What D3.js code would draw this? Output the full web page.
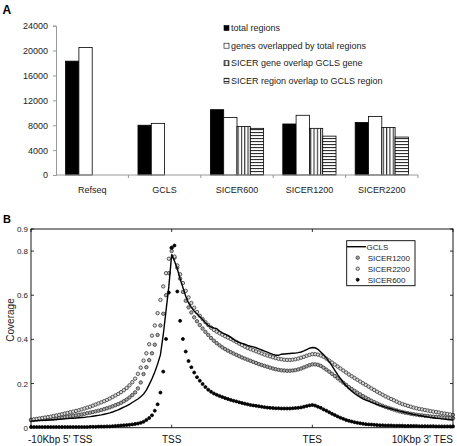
<!DOCTYPE html>
<html><head><meta charset="utf-8">
<script src="https://cdn.jsdelivr.net/npm/d3@7"></script>
<style>body{margin:0;background:#fff}svg{display:block}text{font-family:"Liberation Sans",Arial,sans-serif}</style>
</head><body>
<svg id="c" width="457" height="446"></svg>
<script>
// ---- Panel A data ----
const categories = ["Refseq","GCLS","SICER600","SICER1200","SICER2200"];
const seriesNames = ["total regions","genes overlapped by total regions","SICER gene overlap GCLS gene","SICER region overlap to GCLS region"];
const totalRegions      = [18300, 8000, 10500, 8200, 8450];
const genesOverlapped   = [20500, 8300, 9250, 9600, 9400];
const sicerGeneOverlap  = [null, null, 7800, 7500, 7650];
const sicerRegionOverlap= [null, null, 7500, 6250, 6100];
const yTicksA = [0,4000,8000,12000,16000,20000,24000];

// ---- Panel B data (150 bins: 0-50 upstream, 50-100 gene body, 100-150 downstream) ----
const xTickPos = [0,50,100,150];
const xTickLabels = ["-10Kbp 5' TSS","TSS","TES","10Kbp 3' TES"];
const yTicksB = [0,0.2,0.4,0.6,0.8,0.9];
const GCLS = [
.030,.031,.032,.033,.033,.034,.035,.035,.036,.037,
.038,.039,.040,.041,.042,.043,.044,.045,.046,.047,
.049,.050,.052,.054,.056,.058,.061,.064,.067,.071,
.076,.081,.087,.093,.099,.106,.114,.122,.130,.140,
.152,.170,.195,.222,.252,.288,.330,.420,.530,.640,
.785,.755,.720,.675,.635,.595,.565,.545,.528,.515,
.503,.490,.475,.463,.456,.452,.449,.438,.430,.424,
.418,.410,.400,.392,.386,.382,.378,.373,.369,.366,
.362,.357,.352,.347,.342,.337,.332,.328,.328,.333,
.334,.335,.336,.337,.338,.340,.343,.348,.354,.360,
.363,.362,.355,.343,.330,.315,.298,.280,.260,.240,
.222,.205,.190,.176,.165,.155,.146,.138,.131,.125,
.120,.115,.110,.105,.101,.097,.093,.089,.086,.082,
.079,.075,.072,.069,.066,.063,.060,.058,.055,.053,
.051,.049,.047,.045,.043,.042,.040,.039,.037,.036,
.035];
const SICER1200 = [
.034,.035,.036,.037,.038,.039,.040,.041,.042,.043,
.044,.046,.048,.050,.052,.054,.056,.058,.060,.063,
.066,.068,.071,.074,.077,.080,.084,.088,.092,.097,
.102,.107,.113,.120,.128,.137,.148,.160,.178,.205,
.243,.274,.306,.337,.376,.420,.463,.516,.600,.700,
.800,.770,.725,.675,.615,.575,.545,.522,.500,.482,
.465,.449,.434,.420,.406,.394,.383,.373,.364,.356,
.349,.342,.336,.330,.324,.318,.313,.308,.303,.298,
.293,.288,.284,.280,.276,.272,.268,.265,.262,.260,
.259,.258,.258,.259,.261,.264,.268,.273,.278,.283,
.287,.287,.285,.280,.272,.263,.254,.244,.234,.224,
.214,.204,.194,.184,.175,.167,.159,.151,.143,.136,
.129,.122,.116,.110,.104,.099,.094,.090,.086,.082,
.078,.074,.071,.068,.066,.063,.061,.059,.057,.056,
.054,.053,.051,.050,.049,.048,.047,.046,.045,.044,
.043];
const SICER2200 = [
.036,.038,.040,.042,.044,.046,.048,.050,.053,.055,
.058,.061,.064,.067,.070,.073,.076,.079,.083,.087,
.091,.095,.100,.105,.110,.115,.120,.126,.132,.139,
.146,.153,.161,.170,.180,.192,.206,.222,.244,.272,
.304,.337,.378,.417,.463,.519,.579,.640,.700,.765,
.815,.775,.735,.695,.655,.620,.590,.565,.543,.524,
.507,.492,.478,.465,.453,.443,.435,.428,.421,.414,
.408,.402,.395,.388,.381,.374,.367,.361,.356,.351,
.346,.341,.336,.331,.327,.323,.319,.315,.312,.310,
.308,.307,.307,.308,.310,.313,.317,.321,.326,.330,
.333,.333,.331,.327,.321,.313,.304,.295,.286,.277,
.268,.259,.250,.241,.233,.225,.217,.209,.201,.194,
.186,.178,.171,.163,.156,.149,.142,.136,.130,.124,
.118,.112,.107,.103,.099,.095,.091,.088,.085,.083,
.080,.078,.075,.073,.071,.069,.066,.064,.062,.060,
.058];
const SICER600 = [
.003,.003,.003,.003,.003,.003,.003,.003,.003,.003,
.003,.003,.003,.003,.003,.003,.003,.003,.003,.003,
.003,.004,.004,.004,.005,.005,.005,.006,.006,.007,
.008,.009,.010,.011,.012,.013,.015,.017,.019,.022,
.027,.035,.044,.056,.077,.106,.159,.254,.402,.612,
.815,.825,.617,.484,.402,.345,.302,.274,.250,.229,
.213,.198,.184,.172,.163,.155,.149,.144,.139,.134,
.130,.126,.122,.119,.115,.112,.109,.106,.103,.101,
.099,.097,.095,.093,.091,.090,.089,.088,.088,.087,
.087,.087,.087,.088,.089,.090,.092,.095,.098,.101,
.103,.100,.095,.090,.083,.077,.070,.063,.057,.051,
.045,.040,.035,.031,.028,.025,.022,.020,.018,.016,
.015,.014,.013,.012,.011,.011,.010,.010,.010,.009,
.009,.009,.009,.008,.008,.008,.008,.008,.007,.007,
.007,.007,.007,.007,.006,.006,.006,.006,.006,.006,
.006];

const svg = d3.select("#c");
const defs = svg.append("defs");
const pv = defs.append("pattern").attr("id","vstripe").attr("patternUnits","userSpaceOnUse").attr("width",3.3).attr("height",4);
pv.append("rect").attr("width",3.3).attr("height",4).attr("fill","#fff");
pv.append("line").attr("x1",0.6).attr("x2",0.6).attr("y1",0).attr("y2",4).attr("stroke","#000").attr("stroke-width",0.9);
const ph = defs.append("pattern").attr("id","hstripe").attr("patternUnits","userSpaceOnUse").attr("width",4).attr("height",3);
ph.append("rect").attr("width",4).attr("height",3).attr("fill","#fff");
ph.append("line").attr("x1",0).attr("x2",4).attr("y1",0.6).attr("y2",0.6).attr("stroke","#000").attr("stroke-width",0.9);
const fills = ["#000","#fff","url(#vstripe)","url(#hstripe)"];

// ---------- Panel A ----------
svg.append("text").attr("x",2.5).attr("y",14).attr("font-size",12).attr("font-weight","bold").text("A");
const yA = d3.scaleLinear().domain([0,24000]).range([175,25.7]);
const xA = d3.scaleBand().domain(categories).range([56,418]);
const x1 = d3.scaleBand().domain(d3.range(4)).range([0,xA.bandwidth()]).paddingOuter(0.72);
const valuesA = [totalRegions, genesOverlapped, sicerGeneOverlap, sicerRegionOverlap];

const gy = svg.append("g").attr("transform","translate(56,0)")
  .call(d3.axisLeft(yA).tickValues(yTicksA).tickSize(3).tickPadding(5).tickFormat(d3.format("d")));
gy.selectAll("path,line").attr("stroke","#999");
gy.selectAll("text").attr("font-size",9).attr("fill","#222").attr("font-family","Liberation Sans, Arial, sans-serif");

categories.forEach((c,ci)=>{
  valuesA.forEach((arr,si)=>{
    const v = arr[ci];
    if (v==null) return;
    svg.append("rect").attr("x",xA(c)+x1(si)).attr("y",yA(v))
      .attr("width",x1.bandwidth()).attr("height",yA(0)-yA(v))
      .attr("fill",fills[si]).attr("stroke","#000").attr("stroke-width",0.8);
  });
});
svg.append("line").attr("x1",56).attr("x2",418).attr("y1",175).attr("y2",175).attr("stroke","#999");
categories.forEach((c,ci)=>{
  if (ci>0) svg.append("line").attr("x1",xA(c)).attr("x2",xA(c)).attr("y1",175).attr("y2",178).attr("stroke","#999");
  svg.append("text").attr("x",xA(c)+xA.bandwidth()/2).attr("y",193).attr("text-anchor","middle")
    .attr("font-size",9).attr("fill","#222").text(c);
});
svg.append("line").attr("x1",418).attr("x2",418).attr("y1",175).attr("y2",178).attr("stroke","#999");
const legY = [28,45.7,63.2,80.7];
seriesNames.forEach((n,i)=>{
  svg.append("rect").attr("x",224).attr("y",legY[i]-2.5).attr("width",5).attr("height",5)
    .attr("fill",fills[i]).attr("stroke","#000").attr("stroke-width",0.6);
  svg.append("text").attr("x",231).attr("y",legY[i]+3.2).attr("font-size",9).attr("fill","#222").text(n);
});

// ---------- Panel B ----------
svg.append("text").attr("x",3).attr("y",222.5).attr("font-size",11).attr("font-weight","bold").text("B");
const L=31, R=453, T=229, B=427.7;
const xB = d3.scaleLinear().domain([0,150]).range([L,R]);
const yB = d3.scaleLinear().domain([0,0.9]).range([B,T]);

const dotted = [
  {name:"SICER1200", data:SICER1200, fill:"#aaa", stroke:"#333", r:1.7},
  {name:"SICER2200", data:SICER2200, fill:"#ddd", stroke:"#333", r:1.7},
  {name:"SICER600", data:SICER600, fill:"#000", stroke:"#000", r:1.5}
];
dotted.forEach(s=>{
  svg.append("g").selectAll("circle").data(s.data).join("circle")
    .attr("cx",(d,i)=>xB(i)).attr("cy",d=>yB(d)).attr("r",s.r)
    .attr("fill",s.fill).attr("stroke",s.stroke).attr("stroke-width",0.8);
});
svg.append("path").datum(GCLS)
  .attr("d",d3.line().x((d,i)=>xB(i)).y(d=>yB(d)))
  .attr("fill","none").attr("stroke","#000").attr("stroke-width",1.4);

svg.append("rect").attr("x",L).attr("y",T).attr("width",R-L).attr("height",B-T)
  .attr("fill","none").attr("stroke","#000").attr("stroke-width",0.9);
yTicksB.forEach(t=>{
  svg.append("line").attr("x1",L).attr("x2",L+3).attr("y1",yB(t)).attr("y2",yB(t)).attr("stroke","#000").attr("stroke-width",0.8);
  svg.append("line").attr("x1",R).attr("x2",R-3).attr("y1",yB(t)).attr("y2",yB(t)).attr("stroke","#000").attr("stroke-width",0.8);
  svg.append("text").attr("x",28).attr("y",yB(t)+3).attr("text-anchor","end").attr("font-size",8).attr("fill","#222")
    .text(t===0?"0":d3.format(".1f")(t));
});
xTickPos.forEach((p,i)=>{
  svg.append("line").attr("x1",xB(p)).attr("x2",xB(p)).attr("y1",B).attr("y2",B-3).attr("stroke","#000").attr("stroke-width",0.8);
  svg.append("line").attr("x1",xB(p)).attr("x2",xB(p)).attr("y1",T).attr("y2",T+3).attr("stroke","#000").attr("stroke-width",0.8);
  const anchor = i===0?"start":(i===xTickPos.length-1?"end":"middle");
  const xx = i===0?28:(i===xTickPos.length-1?R:xB(p));
  svg.append("text").attr("x",xx).attr("y",442.5).attr("text-anchor",anchor).attr("font-size",10).attr("fill","#111").text(xTickLabels[i]);
});
svg.append("text").attr("transform","translate(13.5,320) rotate(-90)").attr("text-anchor","middle")
  .attr("font-size",10).attr("fill","#222").text("Coverage");

// legend B
svg.append("rect").attr("x",346.7).attr("y",240.7).attr("width",68.3).attr("height",45)
  .attr("fill","#fff").attr("stroke","#000").attr("stroke-width",0.9);
const legB = [{name:"GCLS",type:"line"}].concat(dotted.map(d=>({name:d.name,type:"dot",s:d})));
legB.forEach((e,i)=>{
  const yy = 246.7 + i*11;
  if (e.type==="line") {
    svg.append("line").attr("x1",347).attr("x2",366).attr("y1",yy).attr("y2",yy).attr("stroke","#000").attr("stroke-width",1.4);
  } else {
    svg.append("circle").attr("cx",357.7).attr("cy",yy).attr("r",e.s.r).attr("fill",e.s.fill).attr("stroke",e.s.stroke).attr("stroke-width",0.8);
  }
  svg.append("text").attr("x",e.type==="line"?366.5:367.7).attr("y",yy+3).attr("font-size",8).attr("fill","#222").text(e.name);
});
</script>
</body></html>
